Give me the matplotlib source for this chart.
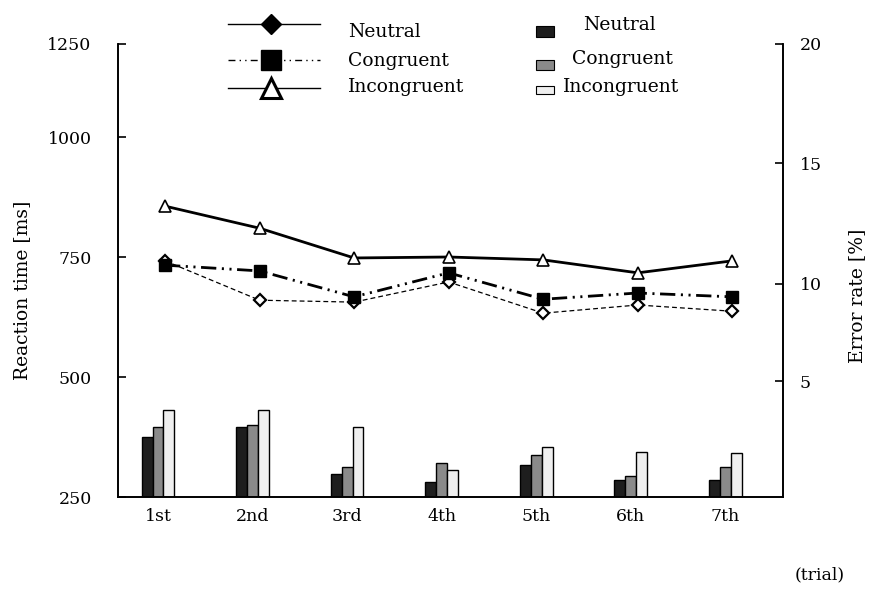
import numpy as np
import matplotlib
matplotlib.use("Agg")
import matplotlib.pyplot as plt
from matplotlib.lines import Line2D
from matplotlib.patches import Rectangle

plt.rcParams['font.family'] = ['DejaVu Serif']
plt.rcParams['lines.scale_dashes'] = False

# Data
trials = ['1st', '2nd', '3rd', '4th', '5th', '6th', '7th']
rt_neutral = [742, 660, 656, 698, 633, 650, 637]
rt_congruent = [733, 721, 667, 717, 662, 675, 667]
rt_incongruent = [856, 810, 748, 750, 744, 717, 742]
err_neutral = [2.6, 3.0, 1.0, 0.65, 1.4, 0.75, 0.75]
err_congruent = [3.0, 3.1, 1.3, 1.45, 1.8, 0.9, 1.3]
err_incongruent = [3.75, 3.75, 3.0, 1.15, 2.15, 1.95, 1.9]
rt_ticks = [250, 500, 750, 1000, 1250]
err_ticks = [0, 5, 10, 15, 20]

# the original axes are not evenly spaced, so use a piecewise scale
rt_knots = [0, 120, 240, 360, 453]
err_knots = [0, 116, 213, 334, 453]


def piecewise(xk, yk):
    xk = np.asarray(xk, float)
    yk = np.asarray(yk, float)

    def f(v):
        v = np.asarray(v, float)
        out = np.interp(v, xk, yk)
        lo = yk[0] + (v - xk[0]) * (yk[1] - yk[0]) / (xk[1] - xk[0])
        hi = yk[-1] + (v - xk[-1]) * (yk[-1] - yk[-2]) / (xk[-1] - xk[-2])
        out = np.where(v < xk[0], lo, out)
        out = np.where(v > xk[-1], hi, out)
        return out
    return f


W, H = 873, 591
fig = plt.figure(figsize=(W / 100, H / 100), dpi=100)
ax = fig.add_axes([118 / W, 1 - 497 / H, 665 / W, 453 / H])
ax2 = ax.twinx()

x = np.arange(len(trials))

# error-rate bars (right axis)
bw = 0.115
ax2.bar(x - bw, err_neutral, width=bw, color='#1e1e1e', edgecolor='black', linewidth=1)
ax2.bar(x, err_congruent, width=bw, color='#8a8a8a', edgecolor='black', linewidth=1)
ax2.bar(x + bw, err_incongruent, width=bw, color='#efefef', edgecolor='black', linewidth=1)

# reaction-time lines (left axis)
xl = x + 0.074
ax.plot(xl, rt_neutral, color='black', lw=0.9, dashes=(3.5, 2.2),
        marker='D', ms=6.5, mfc='white', mec='black', mew=1.6, zorder=3)
ax.plot(xl, rt_congruent, color='black', lw=2.0, dashes=(11, 4, 1.5, 4, 1.5, 4),
        marker='s', ms=8, mfc='black', mec='black', zorder=4)
ax.plot(xl, rt_incongruent, color='black', lw=2.0,
        marker='^', ms=9, mfc='white', mec='black', mew=1.2, zorder=5)

ax.set_zorder(ax2.get_zorder() + 1)
ax.patch.set_visible(False)

fwd, inv = piecewise(rt_ticks, rt_knots), piecewise(rt_knots, rt_ticks)
ax.set_yscale('function', functions=(fwd, inv))
ax.set_ylim(250, 1250)
ax.set_yticks(rt_ticks)
ax.set_yticklabels([str(t) for t in rt_ticks])
ax.set_xlim(-0.423, 6.61)
ax.set_xticks(x)
ax.set_xticklabels(trials)

fwd2, inv2 = piecewise(err_ticks, err_knots), piecewise(err_knots, err_ticks)
ax2.set_yscale('function', functions=(fwd2, inv2))
ax2.set_ylim(0, 20)
ax2.set_yticks(err_ticks[1:])
ax2.set_yticklabels([str(t) for t in err_ticks[1:]])

for a in (ax, ax2):
    a.spines['top'].set_visible(False)
    for s in a.spines.values():
        s.set_linewidth(1.2)
ax.tick_params(axis='y', direction='in', length=6, width=1.2, pad=19, labelsize=12.5)
ax.tick_params(axis='x', length=0, pad=8, labelsize=12.5)
ax2.tick_params(axis='y', direction='in', length=6, width=1.2, pad=12, labelsize=12.5)
ax.minorticks_off()
ax2.minorticks_off()

fig.text(22 / W, 1 - 290 / H, 'Reaction time [ms]', rotation=90,
         ha='center', va='center', fontsize=13.5)
fig.text(857 / W, 1 - 296 / H, 'Error rate [%]', rotation=90,
         ha='center', va='center', fontsize=13.5)
fig.text(820 / W, 1 - 575 / H, '(trial)', ha='center', va='center', fontsize=12.5)


# hand-placed legends, as in the original
def fx(px):
    return px / W


def fy(py):
    return 1 - py / H


leg_lines = [
    (24, dict(ls='-'), dict(marker='D', ms=10.5, mfc='black', mec='black'), 'Neutral', 37),
    (60, dict(dashes=(5, 3, 1, 3, 1, 3)), dict(marker='s', ms=15, mfc='black', mec='black'), 'Congruent', 66),
    (88, dict(ls='-'), dict(marker='^', ms=14, mfc='white', mec='black', mew=2.2), 'Incongruent', 92),
]
for ly, lstyle, mstyle, label, base in leg_lines:
    fig.add_artist(Line2D([fx(228), fx(320)], [fy(ly), fy(ly)], color='black', lw=1,
                          transform=fig.transFigure, **lstyle))
    fig.add_artist(Line2D([fx(271)], [fy(ly)], ls='none', transform=fig.transFigure, **mstyle))
    fig.text(fx(348), fy(base), label, ha='left', va='baseline', fontsize=13.5)

leg_bars = [
    ('#1e1e1e', 26, 11, 'Neutral', 583, 30),
    ('#8a8a8a', 60, 10, 'Congruent', 572, 64),
    ('#efefef', 86, 8, 'Incongruent', 563, 92),
]
for col, top, h, label, tx, base in leg_bars:
    fig.add_artist(Rectangle((fx(536), fy(top + h)), 18 / W, h / H, facecolor=col,
                             edgecolor='black', lw=0.8, transform=fig.transFigure))
    fig.text(fx(tx), fy(base), label, ha='left', va='baseline', fontsize=13.5)

plt.savefig('out.png', dpi=100)
